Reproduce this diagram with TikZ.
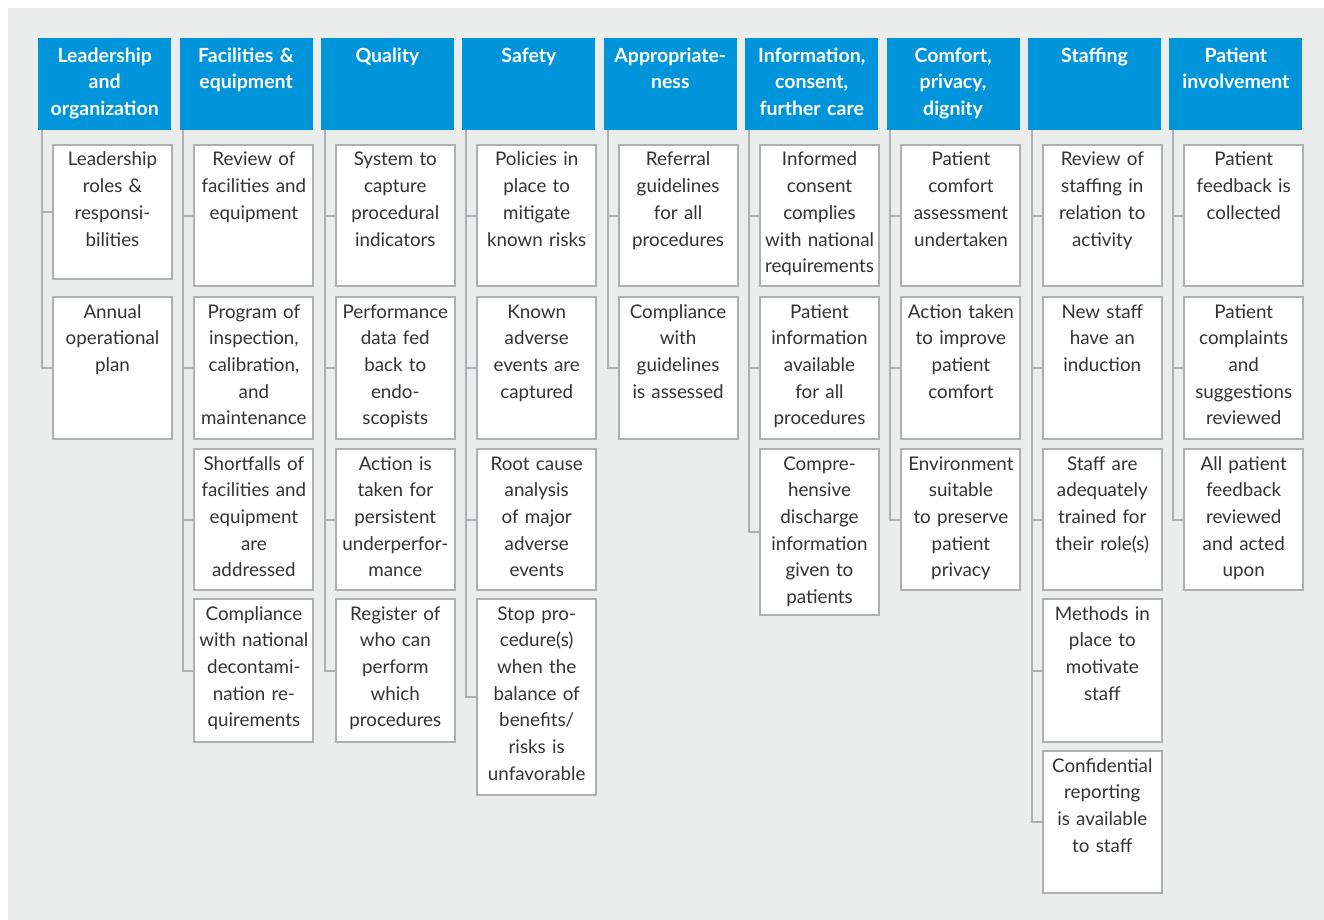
\documentclass[tikz,border=0pt]{standalone}
\usepackage{fontspec}
\setmainfont{Lato}
\definecolor{headblue}{HTML}{0095DA}
\definecolor{panelgray}{HTML}{EBECEC}
\definecolor{stemgray}{HTML}{ADAFB2}
\definecolor{itemtext}{HTML}{333333}

\tikzstyle{header} = [fill=headblue,text=white,font=\fontsize{19.5}{26.5}\selectfont\bfseries,anchor=north west,text width=127pt,inner xsep=3pt,inner ysep=0pt,align=center,text height=24pt,text depth=68pt]
\tikzstyle{item} = [draw=stemgray,line width=2pt,fill=white,text=itemtext,font=\fontsize{18.8}{26.7}\selectfont,anchor=north west,text width=115pt,inner xsep=2pt,inner ysep=0pt,align=center,text height=21pt]
\tikzstyle{stem} = [draw=stemgray,line width=2pt]

\begin{document}
\begin{tikzpicture}[x=1pt,y=-1pt]
    \useasboundingbox (0,0) rectangle (1324,920);
    \fill[panelgray] (8,8) rectangle (1324,920);

    % column headers
    \foreach \c/\title in {
      1/{Leadership\\and\\organization},
      2/{Facilities \&\\equipment},
      3/{Quality},
      4/{Safety},
      5/{Appropriate-\\ness},
      6/{Information,\\consent,\\further care},
      7/{Comfort,\\privacy,\\dignity},
      8/{Staffing},
      9/{Patient\\involvement}}
    {
      \pgfmathsetmacro{\hx}{38+(\c-1)*141.4}
      \node[header] (h\c) at (\hx,38) {\title};
    }

    % items hanging below each header
    \foreach \c/\r/\t/\b/\txt in {
      1/1/144/278/{Leadership\\roles \&\\responsi-\\bilities},
      1/2/296/438/{Annual\\operational\\plan},
      2/1/144/285/{Review of\\facilities and\\equipment},
      2/2/296/438/{Program of\\inspection,\\calibration,\\and\\maintenance},
      2/3/448/589/{Shortfalls of\\facilities and\\equipment\\are\\addressed},
      2/4/598/741/{Compliance\\with national\\decontami-\\nation re-\\quirements},
      3/1/144/285/{System to\\capture\\procedural\\indicators},
      3/2/296/438/{Performance\\data fed\\back to\\endo-\\scopists},
      3/3/448/589/{Action is\\taken for\\persistent\\underperfor-\\mance},
      3/4/598/741/{Register of\\who can\\perform\\which\\procedures},
      4/1/144/285/{Policies in\\place to\\mitigate\\known risks},
      4/2/296/438/{Known\\adverse\\events are\\captured},
      4/3/448/589/{Root cause\\analysis\\of major\\adverse\\events},
      4/4/598/794/{Stop pro-\\cedure(s)\\when the\\balance of\\benefits/\\risks is\\unfavorable},
      5/1/144/285/{Referral\\guidelines\\for all\\procedures},
      5/2/296/438/{Compliance\\with\\guidelines\\is assessed},
      6/1/144/285/{Informed\\consent\\complies\\with national\\requirements},
      6/2/296/438/{Patient\\information\\available\\for all\\procedures},
      6/3/448/614/{Compre-\\hensive\\discharge\\information\\given to\\patients},
      7/1/144/285/{Patient\\comfort\\assessment\\undertaken},
      7/2/296/438/{Action taken\\to improve\\patient\\comfort},
      7/3/448/589/{Environment\\suitable\\to preserve\\patient\\privacy},
      8/1/144/285/{Review of\\staffing in\\relation to\\activity},
      8/2/296/438/{New staff\\have an\\induction},
      8/3/448/589/{Staff are\\adequately\\trained for\\their role(s)},
      8/4/598/741/{Methods in\\place to\\motivate\\staff},
      8/5/750/892/{Confidential\\reporting\\is available\\to staff},
      9/1/144/285/{Patient\\feedback is\\collected},
      9/2/296/438/{Patient\\complaints\\and\\suggestions\\reviewed},
      9/3/448/589/{All patient\\feedback\\reviewed\\and acted\\upon}}
    {
      \pgfmathsetmacro{\bx}{38+(\c-1)*141.4+14}
      \pgfmathsetmacro{\bd}{\b-\t-21}
      \node[item,text depth=\bd pt] (b\c-\r) at (\bx,\t) {\txt};
      \draw[stem] ([xshift=4pt]h\c.south west) |- (b\c-\r.west);
    }
\end{tikzpicture}
\end{document}
